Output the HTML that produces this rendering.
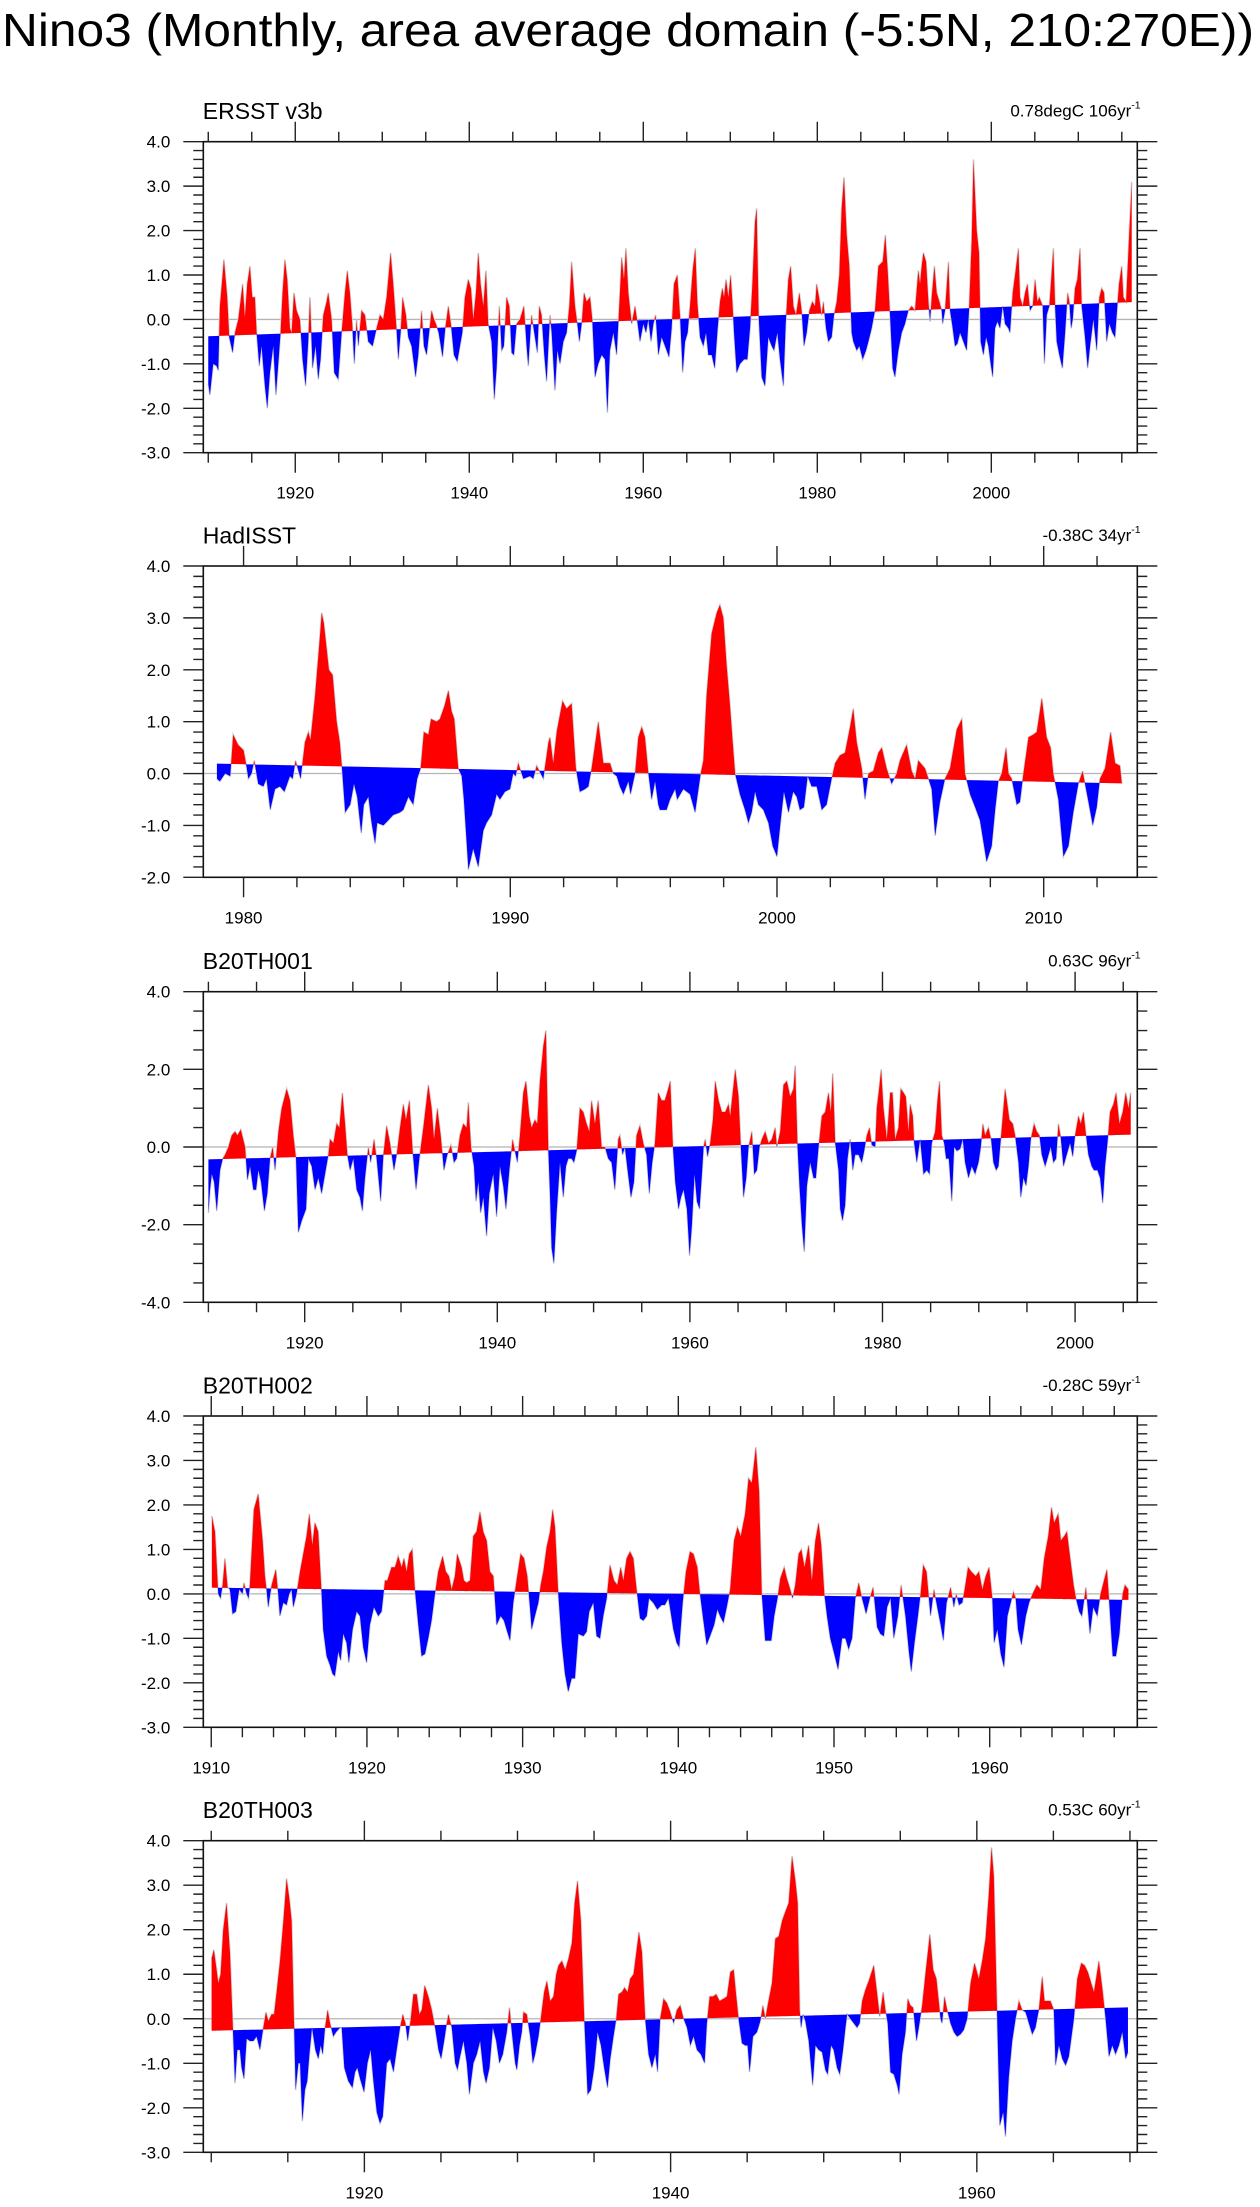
<!DOCTYPE html>
<html><head><meta charset="utf-8">
<style>
html,body{margin:0;padding:0;background:#fff;}
svg{display:block;}
text{font-family:"Liberation Sans",Arial,sans-serif;fill:#000;}
</style></head>
<body>
<svg id="chart" width="1260" height="2207" viewBox="0 0 1260 2207" xmlns="http://www.w3.org/2000/svg">
<text x="2" y="46" font-size="46" textLength="1252" lengthAdjust="spacingAndGlyphs">Nino3 (Monthly, area average domain (-5:5N, 210:270E))</text>
</svg>
<script>
// ---------- Panel 1: ERSST v3b ----------
const p1Years = [1910.0,1910.19,1910.57,1910.96,1911.15,1911.34,1911.8,1912.18,1912.41,1912.8,
1913.07,1913.45,1913.95,1914.21,1914.48,1914.79,1915.06,1915.36,1915.56,1915.86,
1916.13,1916.51,1916.78,1917.09,1917.47,1917.78,1918.05,1918.31,1918.54,1918.81,
1919.08,1919.39,1919.58,1919.85,1920.15,1920.54,1920.84,1921.19,1921.49,1921.69,
1921.99,1922.34,1922.64,1922.91,1923.22,1923.6,1923.79,1924.18,1924.48,1924.94,
1925.33,1925.71,1925.98,1926.28,1926.55,1926.78,1927.05,1927.24,1927.62,1928.01,
1928.39,1928.89,1929.35,1929.73,1930.11,1930.5,1930.96,1931.26,1931.65,1931.84,
1932.11,1932.34,1932.72,1932.99,1933.37,1933.83,1934.14,1934.52,1934.79,1935.1,
1935.67,1935.94,1936.17,1936.48,1936.93,1937.24,1937.59,1937.89,1938.24,1938.62,
1938.93,1939.2,1939.5,1939.89,1940.19,1940.46,1940.77,1941.03,1941.3,1941.61,
1941.92,1942.18,1942.57,1942.87,1943.14,1943.45,1943.72,1943.98,1944.29,1944.6,
1944.87,1945.13,1945.44,1945.82,1946.28,1946.59,1946.78,1947.16,1947.55,1947.82,
1948.05,1948.31,1948.62,1948.89,
1949.28,1949.47,1949.85,1950.12,1950.43,1950.81,1951.19,1951.5,1951.77,1952.15,
1952.42,1952.65,1952.92,1953.19,1953.49,1953.88,1954.14,1954.45,1954.83,1955.22,
1955.6,1955.87,1956.17,1956.56,1956.94,1957.21,1957.52,1957.78,1958.01,1958.28,
1958.67,1959.05,1959.32,1959.62,1960.01,1960.31,1960.58,1960.89,1961.16,1961.42,
1961.73,1962.11,1962.5,1962.96,1963.26,1963.53,1963.91,1964.22,1964.53,1964.8,
1965.1,1965.37,1965.68,1965.98,1966.21,1966.52,1966.9,1967.21,1967.48,1967.86,
1968.21,1968.55,1968.82,1969.09,1969.28,1969.51,1969.78,1970.04,1970.24,1970.43,
1970.73,1971.12,1971.58,1971.96,1972.27,1972.54,1972.84,1973.03,1973.26,1973.61,
1973.99,1974.37,1974.76,1975.03,1975.41,1975.71,1976.1,1976.37,1976.67,1976.94,
1977.25,1977.55,1977.94,1978.2,1978.47,1978.78,1979.09,1979.43,1979.74,1979.93,
1980.2,1980.5,1980.7,1981.0,1981.27,1981.65,1981.92,1982.23,1982.53,1982.8,
1983.07,1983.38,1983.68,1983.95,1984.14,1984.53,1984.83,1985.22,1985.6,1985.87,
1986.25,1986.63,1987.02,1987.52,1987.82,1988.09,1988.36,1988.66,1988.93,1989.32,
1989.7,1990.08,1990.47,1990.85,1991.23,1991.61,
1991.81,1992.0,1992.19,1992.5,1992.77,1992.96,1993.15,1993.46,1993.72,1994.03,
1994.3,1994.41,1994.68,1995.07,1995.26,1995.56,1995.83,1996.1,1996.41,1996.79,
1997.17,1997.44,1997.75,1997.95,1998.32,1998.59,1998.78,1999.09,1999.4,1999.66,
1999.93,2000.16,2000.43,2000.7,2001.0,2001.31,2001.58,2001.96,2002.15,2002.46,
2002.73,2003.11,2003.3,2003.61,2003.88,2004.15,2004.45,2004.76,2005.03,2005.3,
2005.52,2005.91,2006.1,2006.37,2006.67,2007.13,2007.33,2007.52,2007.82,2008.17,
2008.48,2008.78,2008.97,2009.17,2009.36,2009.62,2009.89,2010.2,2010.39,2010.77,
2011.08,2011.35,2011.73,2012.12,2012.42,2012.69,2012.96,2013.26,2013.57,2013.92,
2014.22,2014.41,2014.68,2014.99,2015.18,2015.49,2015.87,2016.14];
const p1Values = [-1.45,-1.7,-1.0,-1.05,-1.15,0.3,1.35,0.5,-0.4,-0.75,
-0.3,0.0,0.8,0.05,0.8,1.2,0.5,0.5,-0.3,-1.05,
-0.6,-1.5,-2.0,-1.2,-0.6,-1.7,-1.0,-0.3,0.6,1.35,
0.9,-0.2,-0.3,0.6,0.2,0.0,-0.9,-1.5,-0.5,0.5,
-1.1,-0.6,-1.35,-0.9,0.1,0.4,0.6,0.0,-1.2,-1.35,
-0.3,0.6,1.1,0.6,-0.1,-1.0,0.0,-0.6,0.2,0.1,
-0.5,-0.6,-0.2,0.1,0.0,0.5,1.5,0.8,-0.25,-0.9,
-0.3,0.5,0.1,-0.4,-0.6,-1.3,-0.8,0.2,-0.6,-0.8,
0.2,0.0,-0.1,-0.3,-0.85,-0.2,0.3,-0.1,-0.8,-0.95,
-0.6,-0.3,0.5,0.9,0.7,0.0,0.6,1.5,0.8,0.3,
1.1,-0.1,-0.5,-1.8,-1.1,0.3,-0.7,-0.6,0.5,0.3,
-0.75,-0.8,-0.1,0.0,0.3,-0.6,-1.05,0.1,-0.4,-0.75,
0.3,0.1,-0.8,-1.4,
0.1,-0.3,-1.6,-0.7,-1.0,-0.5,-0.3,0.3,1.3,0.3,
-0.1,-0.5,-0.1,0.6,0.4,0.5,0.0,-1.3,-1.0,-0.8,
-0.9,-2.1,-0.7,-0.3,-0.8,0.2,1.4,0.9,1.6,0.6,
-0.1,0.3,-0.05,-0.5,-0.1,-0.3,0.0,-0.5,-0.1,0.1,
-0.8,-0.4,-0.6,-0.85,-0.2,0.8,1.0,0.1,-1.2,-0.5,
-0.3,0.3,1.1,1.6,0.4,-0.4,-0.6,-0.3,-0.8,-0.8,
-1.1,-0.2,0.4,0.7,0.5,0.9,0.5,1.0,0.4,-0.3,
-1.2,-1.0,-0.9,-0.9,-0.2,0.8,2.2,2.5,0.1,-1.3,
-1.5,-0.4,-0.6,-0.7,-0.3,-0.9,-1.5,-0.1,0.9,1.2,
0.3,0.1,0.6,0.2,-0.6,-0.3,0.2,0.4,0.3,0.8,
0.5,0.1,0.4,-0.2,-0.5,-0.4,0.1,0.4,1.0,2.5,
3.2,1.9,1.2,-0.3,-0.5,-0.7,-0.6,-0.9,-0.7,-0.5,
-0.2,0.2,1.2,1.3,1.9,1.1,0.1,-1.1,-1.3,-0.7,
-0.3,-0.1,0.2,0.3,0.2,1.1,
0.8,1.2,1.5,1.3,0.4,-0.05,0.5,1.2,0.6,0.4,
0.2,-0.1,0.2,1.3,0.2,-0.2,-0.6,-0.55,-0.3,-0.5,
-0.7,0.2,1.8,3.6,2.0,1.5,-0.5,-0.8,-0.4,-0.6,
-1.0,-1.3,-0.2,-0.05,-0.2,0.3,-0.1,-0.2,-0.3,0.6,
1.0,1.6,0.5,0.3,0.6,0.8,0.2,0.3,0.9,0.4,
0.5,0.3,-1.0,0.1,0.3,1.6,0.3,-0.5,-0.8,-1.1,
-0.3,0.6,0.4,-0.2,0.0,0.7,0.9,1.6,0.3,-0.4,
-1.1,-0.6,0.0,-0.7,0.5,0.7,0.6,-0.5,-0.1,-0.3,
-0.4,0.1,0.8,1.2,0.5,0.4,2.0,3.1];
const p1Trend = [-0.38, 0.39];
const p1YTicks = [4,3,2,1,0,-1,-2,-3];
const p1XTicks = [1920,1940,1960,1980,2000];

// ---------- Panel 2: HadISST ----------
const p2Years = [1979.0,1979.11,1979.31,1979.5,1979.61,1979.8,1980.0,1980.09,1980.18,1980.3,
1980.4,1980.55,1980.74,1980.86,1981.0,1981.18,1981.36,1981.53,1981.74,1981.84,
1981.95,1982.14,1982.3,1982.43,1982.51,1982.68,1982.84,1982.93,1983.01,1983.2,
1983.34,1983.49,1983.61,1983.69,1983.81,1984.0,1984.14,1984.26,1984.41,1984.51,
1984.68,1984.8,1984.93,1985.01,1985.24,1985.43,1985.61,1985.86,1985.99,1986.18,
1986.36,1986.51,1986.64,1986.76,1986.93,1987.03,1987.24,1987.36,1987.53,1987.68,
1987.8,1987.9,1988.05,1988.18,1988.26,1988.43,1988.61,1988.8,1988.99,1989.11,
1989.3,1989.49,1989.61,1989.8,1989.99,1990.11,1990.2,1990.3,1990.49,1990.74,
1990.86,1990.99,1991.14,1991.24,1991.43,1991.49,1991.61,1991.74,1991.96,1992.11,
1992.3,1992.46,1992.61,1992.8,1992.93,1993.05,1993.3,1993.49,1993.74,1993.86,
1993.99,1994.11,1994.24,1994.43,1994.51,1994.68,1994.8,1994.93,1995.05,1995.18,
1995.3,1995.43,1995.55,
1995.61,1995.86,1995.99,1996.18,1996.26,1996.49,1996.74,1996.93,1997.14,1997.24,
1997.36,1997.55,1997.74,1997.86,1997.99,1998.11,1998.24,1998.34,1998.43,1998.61,
1998.8,1998.93,1999.05,1999.18,1999.3,1999.49,1999.68,1999.84,2000.0,2000.14,
2000.26,2000.43,2000.61,2000.74,2000.86,2001.01,2001.15,2001.3,2001.49,2001.68,
2001.86,2002.05,2002.18,2002.36,2002.55,2002.74,2002.86,2002.99,2003.18,2003.3,
2003.43,2003.61,2003.8,2003.93,2004.11,2004.3,2004.49,2004.61,2004.86,2005.05,
2005.18,2005.3,2005.55,2005.68,2005.8,2005.93,2006.11,2006.3,2006.49,2006.74,
2006.93,2007.05,2007.24,2007.43,2007.61,2007.86,2008.05,2008.18,2008.3,2008.43,
2008.59,2008.68,2008.8,2008.99,2009.11,2009.24,2009.43,2009.61,2009.74,2009.93,
2010.11,2010.26,2010.36,2010.55,2010.74,2010.93,2011.11,2011.3,2011.46,2011.55,
2011.68,2011.84,2011.99,2012.11,2012.3,2012.51,2012.68,2012.86,2012.93];
const p2Values = [-0.1,-0.15,0.0,-0.05,0.75,0.55,0.45,0.2,-0.1,0.0,
0.25,-0.2,-0.25,-0.1,-0.7,-0.3,-0.25,-0.35,-0.05,-0.1,
0.25,-0.1,0.6,0.8,0.65,1.5,2.5,3.1,2.9,2.0,
1.9,1.0,0.6,0.1,-0.75,-0.6,-0.2,-0.45,-1.15,-0.6,
-0.45,-0.95,-1.35,-0.95,-1.0,-0.9,-0.8,-0.75,-0.7,-0.45,
-0.6,-0.1,0.1,0.8,0.75,1.05,1.0,1.05,1.3,1.6,
1.2,1.05,0.1,-0.05,-0.5,-1.85,-1.45,-1.8,-1.1,-0.95,
-0.8,-0.4,-0.5,-0.35,-0.3,0.0,-0.05,0.2,-0.1,-0.05,
-0.1,0.15,0.0,-0.1,0.6,0.7,0.2,0.8,1.4,1.25,
1.35,0.1,-0.35,-0.3,-0.25,0.1,1.0,0.2,0.2,0.0,
-0.05,-0.25,-0.4,-0.15,-0.4,0.0,0.7,0.9,0.7,0.0,
-0.5,-0.15,-0.6,
-0.7,-0.7,-0.5,-0.3,-0.5,-0.3,-0.4,-0.75,0.0,0.25,
1.5,2.7,3.1,3.25,3.0,2.1,1.3,0.6,0.0,-0.4,
-0.7,-0.95,-0.75,-0.35,-0.6,-0.7,-0.95,-1.4,-1.6,-0.9,
-0.35,-0.75,-0.35,-0.45,-0.7,-0.65,-0.05,-0.25,-0.25,-0.7,
-0.6,-0.1,0.2,0.35,0.4,0.9,1.25,0.6,0.1,-0.5,
0.0,0.05,0.4,0.5,0.1,-0.2,0.0,0.25,0.55,0.05,
-0.1,0.25,0.1,-0.1,-0.3,-1.2,-0.55,-0.1,0.1,0.85,
1.05,0.0,-0.4,-0.65,-0.9,-1.7,-1.4,-0.7,-0.15,0.0,
0.5,0.0,-0.1,-0.6,-0.55,0.0,0.7,0.75,0.8,1.45,
0.7,0.5,0.0,-0.5,-1.6,-1.4,-0.75,-0.2,0.05,-0.2,
-0.55,-1.0,-0.65,-0.1,0.1,0.8,0.2,0.15,-0.2];
const p2Trend = [0.19, -0.19];
const p2YTicks = [4,3,2,1,0,-1,-2];
const p2XTicks = [1980,1990,2000,2010];

// ---------- Panel 3: B20TH001 ----------
const p3Years = [1910.0,1910.17,1910.35,1910.59,1910.87,1911.21,1911.49,1911.73,1912.08,1912.42,
1912.77,1913.01,1913.36,1913.81,1914.05,1914.33,1914.67,1914.95,1915.19,1915.47,
1915.81,1916.12,1916.4,1916.68,1916.92,1917.27,1917.61,1918.13,1918.48,1918.82,
1919.1,1919.34,1919.69,1920.14,1920.38,1920.73,1921.07,1921.42,1921.76,1922.11,
1922.46,1922.63,1922.98,1923.32,1923.6,1923.91,1924.19,1924.43,1924.71,1925.05,
1925.4,1925.74,1925.99,1926.26,1926.61,1926.85,1927.2,1927.47,1927.89,1928.17,
1928.51,1928.86,1929.27,1929.55,1929.9,1930.24,1930.52,1930.87,1931.21,1931.56,
1931.9,1932.32,1932.84,1933.18,1933.43,1933.77,1934.12,1934.46,1934.81,1935.19,
1935.5,1935.78,1936.12,1936.47,1936.82,1936.99,1937.27,1937.58,1937.79,1938.03,
1938.27,1938.55,1938.89,1939.17,1939.58,1939.93,1940.28,1940.62,1940.9,1941.25,
1941.59,1941.83,1942.08,1942.35,1942.7,1942.98,1943.32,1943.56,1943.91,1944.15,
1944.43,1944.78,1945.05,1945.29,1945.47,1945.64,1945.88,1946.16,1946.51,1946.85,
1947.13,1947.37,1947.72,1947.96,1948.24,1948.58,1948.93,1949.27,1949.55,1949.79,
1950.14,1950.48,1950.83,1951.18,1951.52,1951.87,1952.21,1952.56,1952.73,1953.01,
1953.25,1953.53,1953.88,1954.19,1954.46,1954.81,1955.16,1955.5,1955.78,1956.09,
1956.37,1956.71,1957.06,1957.4,1957.75,
1957.96,1958.24,1958.48,1958.82,1959.07,1959.34,1959.69,1959.97,1960.21,1960.48,
1960.73,1961.0,1961.25,1961.42,1961.59,1961.83,1962.11,1962.39,1962.63,1962.98,
1963.32,1963.67,1964.01,1964.19,1964.36,1964.71,1965.05,1965.29,1965.57,1965.85,
1966.09,1966.44,1966.68,1966.96,1967.23,1967.47,1967.82,1968.17,1968.51,1968.86,
1969.03,1969.38,1969.72,1970.07,1970.42,1970.76,1970.93,1971.18,1971.38,1971.63,
1971.87,1972.15,1972.49,1972.84,1973.08,1973.36,1973.7,1974.05,1974.39,1974.64,
1974.84,1975.09,1975.43,1975.61,1975.85,1976.12,1976.37,1976.64,1976.92,1977.16,
1977.51,1977.85,1978.1,1978.37,1978.65,1978.89,1979.24,1979.41,1979.65,1979.86,
1980.1,1980.45,1980.8,1981.04,1981.31,1981.66,1981.9,1982.18,1982.42,1982.7,
1982.87,1983.15,1983.29,1983.56,1983.91,1984.26,1984.6,1984.88,1985.12,1985.47,
1985.71,1985.92,1986.16,1986.4,1986.61,1986.89,1987.2,1987.44,1987.72,1988.06,
1988.34,1988.58,1988.93,1989.27,1989.62,1989.97,1990.21,1990.42,1990.66,1991.0,
1991.28,1991.52,1991.8,1992.04,1992.39,1992.73,1992.91,1993.18,1993.53,1993.77,
1994.12,1994.36,1994.64,1994.91,1995.16,1995.4,1995.74,1996.02,1996.3,1996.54,
1996.89,1997.13,1997.47,1997.75,1998.03,1998.27,1998.51,1998.79,1999.13,1999.48,
1999.76,2000.0,2000.35,2000.59,2000.87,2001.14,2001.38,2001.73,2001.97,2002.32,
2002.6,2002.87,2003.11,2003.36,2003.63,2003.98,2004.26,2004.6,2004.95,2005.26,
2005.54,2005.78];
const p3Values = [-1.7,-1.1,-0.7,-0.9,-1.65,-0.6,-0.3,-0.2,0.0,0.3,
0.4,0.3,0.45,0.0,-0.85,-0.5,-1.1,-1.1,-0.6,-0.9,
-1.65,-1.2,-0.3,0.0,-0.6,0.4,1.0,1.5,1.2,0.3,
-0.3,-2.2,-1.9,-1.6,-0.3,-0.5,-1.1,-0.8,-1.2,-0.7,
-0.2,0.2,0.1,0.6,0.5,1.4,0.6,-0.2,-0.6,-0.3,
-1.1,-1.3,-1.65,-0.8,0.0,-0.4,0.2,-0.3,-1.4,-0.2,
0.55,0.1,-0.6,-0.2,0.5,1.1,0.7,1.2,-0.1,-1.1,
-0.3,0.5,1.6,1.0,0.2,1.0,0.3,-0.6,-0.2,0.05,
-0.4,-0.3,0.3,0.6,0.5,1.15,0.0,-0.5,-1.4,-0.9,
-1.7,-1.3,-2.3,-1.2,-0.7,-1.8,-0.5,-1.0,-1.6,-0.6,
0.2,-0.1,-0.4,0.3,1.4,1.7,0.8,0.5,0.7,0.6,
1.7,2.6,3.0,0.0,-1.2,-2.6,-3.0,-1.7,-0.4,-1.3,
-0.5,-0.3,-0.3,-0.4,-0.1,1.0,0.9,0.6,0.4,1.2,
0.6,1.2,0.0,0.0,-0.3,-0.4,-1.1,0.2,0.3,-0.2,
0.0,-0.6,-1.3,-0.9,0.3,0.55,0.1,-0.2,-1.2,-0.4,
0.1,1.4,1.2,1.2,1.5,
1.7,0.0,-0.9,-1.6,-1.3,-1.1,-1.6,-2.8,-2.0,-0.7,
-1.4,-1.6,-0.7,0.0,0.2,-0.25,0.1,0.7,1.7,1.2,
0.9,0.9,1.1,0.8,1.2,2.0,1.3,0.0,-1.3,-0.8,
0.0,0.4,-0.7,-0.6,0.0,0.2,0.4,0.1,0.2,0.5,
0.0,0.4,1.6,1.7,1.3,1.5,2.1,0.0,-1.0,-2.0,
-2.7,-1.0,-0.4,-0.8,-0.8,0.0,0.8,0.9,1.4,0.9,
1.9,0.1,-0.6,-1.6,-1.9,-1.5,-0.3,0.2,-0.6,-0.2,
-0.2,-0.4,-0.1,0.3,0.5,0.05,0.0,1.0,1.5,2.0,
1.0,0.2,1.4,1.4,0.2,0.5,1.5,1.4,1.3,0.4,
1.1,0.8,0.1,-0.4,0.2,-0.7,-0.6,-0.7,0.1,0.4,
1.2,1.7,0.3,0.1,-0.3,-0.3,-1.4,0.0,-0.1,-0.05,
0.2,-0.4,-0.8,-0.5,-0.7,-0.4,0.0,0.6,0.3,0.5,
0.2,-0.4,-0.6,-0.5,0.5,1.5,1.2,0.7,0.6,0.3,
-0.4,-1.3,-0.8,-1.0,-0.5,0.2,0.6,0.4,0.3,-0.2,
-0.5,-0.3,0.0,-0.4,-0.3,0.6,0.25,-0.5,-0.2,0.1,
-0.25,0.3,0.8,0.6,0.9,0.3,-0.2,-0.5,-0.6,-0.6,
-0.8,-1.45,-0.5,0.1,0.9,1.1,1.4,0.6,0.9,1.4,
1.0,1.4];
const p3Trend = [-0.32, 0.32];
const p3YTicks = [4,2,0,-2,-4];
const p3XTicks = [1920,1940,1960,1980,2000];

// ---------- Panel 4: B20TH002 ----------
const p4Years = [1910.04,1910.24,1910.45,1910.6,1910.73,1910.88,1911.05,1911.2,1911.37,1911.58,
1911.8,1912.01,1912.1,1912.27,1912.4,1912.48,1912.74,1913.02,1913.3,1913.45,
1913.55,1913.66,1913.88,1914.15,1914.3,1914.41,1914.63,1914.84,1915.01,1915.16,
1915.27,1915.48,1915.7,1915.91,1916.12,1916.3,1916.49,1916.66,1916.87,1917.09,
1917.19,1917.41,1917.62,1917.79,1917.94,1918.16,1918.31,1918.48,1918.69,1918.84,
1919.08,1919.34,1919.55,1919.76,1919.98,1920.19,1920.45,1920.73,1920.94,1921.16,
1921.31,1921.58,1921.8,1922.01,1922.23,1922.38,1922.55,1922.72,1922.91,1923.08,
1923.3,1923.51,1923.73,1923.94,1924.15,1924.37,1924.58,1924.86,1925.07,1925.27,
1925.44,1925.65,1925.8,1926.08,1926.23,1926.4,1926.62,1926.83,1927.04,1927.26,
1927.47,1927.69,1927.9,1928.12,1928.33,1928.59,1928.8,1929.01,1929.19,1929.4,
1929.61,1929.87,1930.09,1930.3,1930.47,1930.58,1930.79,1931.01,1931.16,1931.33,
1931.54,1931.76,1931.93,1932.08,1932.29,1932.51,1932.72,1932.93,1933.15,1933.36,
1933.58,1933.9,1934.11,1934.28,1934.54,1934.75,1934.97,1935.18,1935.4,1935.61,
1935.87,1936.08,1936.3,1936.47,1936.68,1936.9,1937.11,1937.32,1937.54,1937.75,
1937.97,1938.12,1938.39,1938.65,1938.93,1939.14,1939.36,
1939.46,1939.68,1939.89,1940.06,1940.28,1940.49,1940.75,1940.97,1941.22,1941.39,
1941.61,1941.82,1942.04,1942.3,1942.51,1942.68,1942.9,1943.11,1943.33,1943.58,
1943.8,1944.01,1944.29,1944.51,1944.72,1944.98,1945.19,1945.36,1945.58,1945.79,
1945.97,1946.16,1946.37,1946.55,1946.8,1946.97,1947.19,1947.34,1947.51,1947.73,
1947.9,1948.11,1948.37,1948.58,1948.8,1949.01,1949.18,1949.38,1949.55,1949.76,
1949.98,1950.26,1950.52,1950.73,1950.94,1951.16,1951.37,1951.59,1951.8,1952.06,
1952.3,1952.51,1952.77,1952.98,1953.2,1953.41,1953.63,1953.84,1954.1,1954.31,
1954.59,1954.81,1954.96,1955.17,1955.39,1955.56,1955.73,1955.94,1956.2,1956.42,
1956.63,1956.85,1957.02,1957.23,1957.49,1957.7,1957.85,1958.03,1958.24,1958.39,
1958.61,1958.82,1959.1,1959.31,1959.53,1959.74,1959.96,1960.17,1960.28,1960.49,
1960.71,1960.92,1961.14,1961.35,1961.52,1961.67,1961.82,1962.04,1962.32,1962.53,
1962.75,1963.03,1963.28,1963.5,1963.76,1963.97,1964.14,1964.4,1964.57,1964.79,
1964.96,1965.17,1965.39,1965.54,1965.75,1965.92,1966.18,1966.44,1966.65,1966.91,
1967.12,1967.34,1967.53,1967.68,1967.9,1968.11,1968.33,1968.54,1968.69,1968.91];
const p4Values = [1.75,1.4,0.0,-0.1,0.2,0.8,0.15,0.1,-0.45,-0.4,
0.1,0.0,0.25,0.0,-0.1,0.2,1.9,2.25,1.2,0.4,
0.1,-0.3,0.2,0.55,0.0,-0.5,-0.2,-0.25,0.0,0.1,
-0.3,0.0,0.5,0.9,1.3,1.8,1.1,1.6,1.4,0.0,
-0.8,-1.4,-1.6,-1.8,-1.85,-1.3,-1.5,-0.9,-1.1,-1.55,
-0.8,-0.4,-0.5,-1.2,-1.55,-0.7,-0.3,-0.5,-0.4,0.3,
0.3,0.6,0.6,0.85,0.6,0.8,0.5,0.9,1.0,0.1,
-0.7,-1.4,-1.35,-1.0,-0.6,0.0,0.5,0.85,0.5,0.4,
0.1,0.4,0.9,0.6,0.3,0.25,0.3,1.3,1.4,1.85,
1.4,1.2,0.5,0.4,-0.7,-0.5,-0.6,-0.85,-1.05,-0.2,
0.3,0.9,0.8,0.4,-0.3,-0.8,-0.5,-0.2,0.2,0.5,
1.05,1.4,1.9,1.5,0.0,-1.1,-1.8,-2.2,-1.9,-1.9,
-0.9,-0.95,-0.85,-0.4,-0.2,-0.95,-1.0,-0.5,-0.1,0.65,
0.3,0.2,0.6,0.3,0.8,0.95,0.8,0.1,-0.55,-0.6,
-0.5,-0.1,-0.2,-0.35,-0.25,-0.25,-0.1,
-0.3,-0.8,-1.1,-1.2,-0.2,0.5,0.95,0.9,0.6,0.0,
-0.6,-1.15,-0.95,-0.7,-0.35,-0.5,-0.65,-0.3,0.1,1.2,
1.5,1.3,1.8,2.6,2.5,3.3,2.3,0.0,-1.05,-1.05,
-1.05,-0.5,-0.1,0.35,0.6,0.35,0.1,-0.1,0.2,0.9,
1.0,0.6,1.1,0.3,1.2,1.6,1.1,0.0,-0.5,-1.0,
-1.3,-1.7,-1.0,-1.0,-1.25,-1.0,-0.1,0.25,-0.1,-0.45,
-0.1,0.15,-0.75,-0.9,-0.95,-0.3,-0.1,-1.0,-0.5,0.2,
-0.5,-1.3,-1.75,-1.1,-0.5,0.0,0.65,0.5,-0.5,0.1,
-0.3,-0.7,-1.05,-0.2,0.15,-0.3,0.0,-0.25,-0.2,0.1,
0.6,0.5,0.4,0.5,0.1,0.4,0.6,-0.1,-1.1,-0.8,
-1.35,-1.65,-0.5,-0.2,0.05,-0.1,-0.8,-1.15,-0.5,-0.2,
0.0,0.2,0.1,0.8,1.3,1.95,1.6,1.8,1.2,1.3,
1.4,0.8,0.2,-0.1,-0.4,-0.5,0.15,-0.9,-0.3,-0.5,
0.0,0.3,0.55,-0.2,-1.4,-1.4,-0.9,0.0,0.2,0.1];
const p4Trend = [0.14, -0.135];
const p4YTicks = [4,3,2,1,0,-1,-2,-3];
const p4XTicks = [1910,1920,1930,1940,1950,1960];

// ---------- Panel 5: B20TH003 ----------
const p5Years = [1910.02,1910.17,1910.31,1910.46,1910.61,1910.78,1911.0,1911.22,1911.39,1911.55,
1911.7,1911.87,1911.98,1912.14,1912.31,1912.53,1912.75,1912.96,1913.18,1913.4,
1913.57,1913.73,1913.94,1914.1,1914.27,1914.49,1914.71,1914.92,1915.1,1915.25,
1915.4,1915.51,1915.69,1915.8,1915.95,1916.12,1916.27,1916.41,1916.58,1916.8,
1916.99,1917.15,1917.28,1917.43,1917.6,1917.76,1917.97,1918.15,1918.41,1918.52,
1918.69,1918.95,1919.22,1919.39,1919.54,1919.72,1919.98,1920.2,1920.41,1920.59,
1920.81,1921.02,1921.2,1921.46,1921.68,1921.9,1922.11,1922.33,1922.51,1922.68,
1922.83,1923.03,1923.2,1923.42,1923.59,1923.75,1923.94,1924.18,1924.4,1924.62,
1924.84,1925.01,1925.21,1925.38,1925.49,1925.71,1925.93,1926.08,1926.25,1926.47,
1926.69,1926.86,1927.12,1927.34,1927.56,1927.78,1927.95,1928.17,1928.39,1928.61,
1928.82,1929.04,1929.3,1929.48,1929.63,1929.85,1929.96,1930.13,1930.28,1930.39,
1930.61,1930.83,1931.0,1931.15,1931.37,1931.52,1931.74,1931.92,1932.14,1932.35,
1932.53,1932.68,1932.9,1933.12,1933.33,1933.55,1933.73,1933.92,1934.14,1934.36,
1934.58,1934.79,1935.01,1935.23,1935.45,1935.66,1935.88,1936.06,1936.27,1936.45,
1936.6,1936.82,1936.99,1937.19,1937.36,1937.58,1937.8,1937.93,1938.13,1938.34,
1938.56,1938.78,1939.0,1939.15,1939.32,1939.54,1939.76,1939.93,
1940.2,1940.41,1940.63,1940.85,1941.07,1941.29,1941.5,1941.72,1941.98,1942.22,
1942.37,1942.55,1942.77,1942.98,1943.2,1943.46,1943.68,1943.9,1944.12,1944.29,
1944.44,1944.66,1944.88,1945.03,1945.16,1945.38,1945.64,1945.86,1946.03,1946.19,
1946.34,1946.62,1946.84,1947.06,1947.28,1947.49,1947.71,1947.93,1948.15,1948.3,
1948.43,1948.52,1948.65,1948.8,1949.02,1949.28,1949.46,1949.67,1949.89,1950.11,
1950.26,1950.48,1950.65,1950.87,1951.05,1951.26,1951.42,1951.53,1951.74,1951.96,
1952.18,1952.35,1952.51,1952.72,1952.94,1953.27,1953.44,1953.66,1953.88,1954.03,
1954.18,1954.36,1954.58,1954.8,1954.92,1955.12,1955.34,1955.49,1955.66,1955.84,
1956.06,1956.21,1956.43,1956.64,1956.93,1957.15,1957.36,1957.63,1957.73,1957.89,
1958.06,1958.28,1958.5,1958.71,1958.93,1959.15,1959.37,1959.59,1959.85,1960.13,
1960.35,1960.57,1960.78,1960.96,1961.11,1961.33,1961.5,1961.72,1961.87,1962.09,
1962.31,1962.53,1962.75,1962.96,1963.18,1963.4,1963.62,1963.83,1964.05,1964.27,
1964.42,1964.6,1964.81,1965.03,1965.14,1965.36,1965.58,1965.8,1966.01,1966.34,
1966.56,1966.82,1967.04,1967.25,1967.47,1967.65,1967.97,1968.19,1968.41,1968.63,
1968.85,1969.06,1969.28,1969.5,1969.72,1969.87];
const p5Values = [1.35,1.55,1.2,0.8,1.0,2.0,2.6,1.5,0.0,-1.45,
-0.7,-0.7,-1.1,-1.35,-0.45,-0.5,-0.5,-0.4,-0.7,-0.2,
0.15,-0.05,0.1,0.1,0.6,1.3,2.2,3.15,2.7,2.2,
0.0,-1.6,-1.0,-1.0,-2.3,-1.6,-1.4,-0.8,-0.2,-0.7,
-0.9,-0.6,-0.8,-0.2,0.2,-0.1,-0.4,-0.3,-0.2,-0.2,
-1.1,-1.4,-1.55,-1.2,-1.1,-1.35,-1.65,-1.0,-0.7,-1.4,
-2.1,-2.35,-2.2,-1.0,-0.9,-1.2,-0.7,-0.2,0.1,-0.1,
-0.5,0.0,0.55,0.55,0.1,0.2,0.75,0.5,0.2,-0.2,
-0.7,-0.9,-0.5,-0.1,0.1,-0.2,-1.0,-1.15,-0.85,-0.5,
-1.0,-1.7,-1.0,-0.8,-0.5,-1.2,-1.45,-1.1,-0.2,-0.5,
-1.0,-0.8,-0.3,0.25,-0.3,-1.0,-1.15,-0.6,-0.3,0.15,
0.1,-0.4,-1.0,-0.8,-0.4,0.0,0.6,0.85,0.4,0.5,
1.0,1.2,1.3,1.1,1.35,1.7,2.6,3.1,2.2,0.0,
-1.7,-1.6,-1.1,-0.3,-0.6,-1.1,-1.55,-0.9,-0.4,0.0,
0.55,0.6,0.7,0.6,0.9,1.0,1.6,1.95,1.5,0.0,
-0.8,-1.1,-0.8,-1.2,0.0,0.45,0.35,0.2,
-0.1,0.2,0.3,0.0,-0.2,-0.6,-0.4,-0.7,-0.8,-1.0,
-0.1,0.5,0.5,0.55,0.4,0.45,0.5,1.05,1.1,0.5,
0.0,-0.55,-0.6,-0.6,-1.2,-0.4,-0.3,-0.05,0.3,0.0,
0.3,0.8,1.8,1.85,2.2,2.4,2.6,3.65,3.1,2.6,
0.2,-0.2,0.1,-0.05,-0.5,-1.5,-0.6,-0.7,-0.75,-1.15,
-1.25,-0.6,-0.7,-1.1,-1.25,-0.7,-0.2,0.1,0.0,-0.1,
-0.2,-0.1,0.4,0.65,0.85,1.2,0.7,0.05,0.6,0.2,
-0.1,-1.2,-1.25,-1.5,-1.7,-0.8,-0.3,0.45,0.3,0.25,
-0.5,-0.2,0.3,1.0,1.9,1.1,0.9,0.0,-0.1,0.5,
0.2,-0.1,-0.3,-0.4,-0.35,-0.25,0.0,0.8,1.25,0.9,
1.3,1.8,2.8,3.85,3.2,0.0,-2.4,-2.1,-2.65,-1.3,
-0.5,0.0,0.4,0.2,0.15,-0.1,-0.35,-0.2,0.2,0.95,
0.4,0.4,0.4,0.2,-1.05,-0.6,-0.9,-1.05,-0.85,0.0,
0.9,1.25,1.2,1.05,0.8,0.6,1.3,0.7,0.0,-0.85,
-0.6,-0.8,-0.6,-0.3,-0.9,-0.75];
const p5Trend = [-0.27, 0.255];
const p5YTicks = [4,3,2,1,0,-1,-2,-3];
const p5XTicks = [1920,1940,1960];

const NS = 'http://www.w3.org/2000/svg';
const svg = document.getElementById('chart');
const L = 203.3, R = 1137.3;

const panels = [
 {key:'ersst', title:'ERSST v3b', right:'0.78degC 106yr', top:141.7, bottom:452.7, ymin:-3, ymax:4, xmin:1909.43, xmax:2016.78,
  years:p1Years, values:p1Values, trend:p1Trend, yTicks:p1YTicks, yMinor:0.2, xTicks:p1XTicks, xMinor:5},
 {key:'hadisst', title:'HadISST', right:'-0.38C 34yr', top:566, bottom:877.3, ymin:-2, ymax:4, xmin:1978.49, xmax:2013.51,
  years:p2Years, values:p2Values, trend:p2Trend, yTicks:p2YTicks, yMinor:0.2, xTicks:p2XTicks, xMinor:2},
 {key:'b20th001', title:'B20TH001', right:'0.63C 96yr', top:991.7, bottom:1302.3, ymin:-4, ymax:4, xmin:1909.47, xmax:2006.46,
  years:p3Years, values:p3Values, trend:p3Trend, yTicks:p3YTicks, yMinor:0.5, xTicks:p3XTicks, xMinor:5},
 {key:'b20th002', title:'B20TH002', right:'-0.28C 59yr', top:1416, bottom:1727.3, ymin:-3, ymax:4, xmin:1909.49, xmax:1969.48,
  years:p4Years, values:p4Values, trend:p4Trend, yTicks:p4YTicks, yMinor:0.2, xTicks:p4XTicks, xMinor:2},
 {key:'b20th003', title:'B20TH003', right:'0.53C 60yr', top:1840.7, bottom:2152.3, ymin:-3, ymax:4, xmin:1909.48, xmax:1970.48,
  years:p5Years, values:p5Values, trend:p5Trend, yTicks:p5YTicks, yMinor:0.2, xTicks:p5XTicks, xMinor:5}
];

function mk(tag, attrs, parent){
  const e = document.createElementNS(NS, tag);
  for (const k in attrs) e.setAttribute(k, attrs[k]);
  (parent||svg).appendChild(e);
  return e;
}

panels.forEach(function(p){
  const g = mk('g', {});
  
  
  const xs = t => L + (t - p.xmin) / (p.xmax - p.xmin) * (R - L);
  const ys = v => p.top + (p.ymax - v) / (p.ymax - p.ymin) * (p.bottom - p.top);
  const t0 = p.years[0], t1 = p.years[p.years.length-1];
  const trendAt = t => p.trend[0] + (p.trend[1]-p.trend[0]) * (t - t0) / (t1 - t0);

  const zl = mk('line', {x1:L, x2:R, y1:ys(0), y2:ys(0), stroke:'#b4b4b4', 'stroke-width':1.3}, g);
  
  

  let outline = '';
  p.years.forEach((t,i) => { outline += (i ? 'L' : 'M') + xs(t).toFixed(2) + ',' + ys(p.values[i]).toFixed(2); });
  const ol = mk('path', {d:outline, fill:'none', stroke:'#cfcfcf', 'stroke-width':1.6}, g);
  
  

  const pts = [];
  for (let i = 0; i < p.years.length; i++){
    const t = p.years[i], d = p.values[i] - trendAt(t);
    if (i > 0){
      const tp = p.years[i-1], dp = p.values[i-1] - trendAt(tp);
      if ((dp > 0 && d < 0) || (dp < 0 && d > 0)){
        const f = dp / (dp - d);
        pts.push({t: tp + f*(t-tp), d: 0});
      }
    }
    pts.push({t:t, d:d});
  }
  function areaPath(sign){
    let s = 'M' + xs(t0).toFixed(2) + ',' + ys(trendAt(t0)).toFixed(2);
    pts.forEach(q => {
      const dd = sign > 0 ? Math.max(q.d, 0) : Math.min(q.d, 0);
      s += 'L' + xs(q.t).toFixed(2) + ',' + ys(trendAt(q.t) + dd).toFixed(2);
    });
    s += 'L' + xs(t1).toFixed(2) + ',' + ys(trendAt(t1)).toFixed(2) + 'Z';
    return s;
  }
  const red = mk('path', {d:areaPath(1), fill:'#ff0000', stroke:'none'}, g);
  
  
  const blue = mk('path', {d:areaPath(-1), fill:'#0000ff', stroke:'none'}, g);
  
  

  const fr = mk('rect', {x:L, y:p.top, width:R-L, height:p.bottom-p.top, fill:'none', stroke:'#111', 'stroke-width':1.6}, g);
  
  

  let tk = '';
  const isMajorY = v => p.yTicks.some(m => Math.abs(m - v) < 1e-6);
  for (let v = p.ymin; v <= p.ymax + 1e-6; v += p.yMinor){
    const vv = Math.round(v*100)/100;
    const y = ys(vv).toFixed(2);
    const len = isMajorY(vv) ? 20 : 10;
    tk += 'M' + (L-len) + ',' + y + 'H' + L + 'M' + R + ',' + y + 'H' + (R+len);
  }
  const isMajorX = t => p.xTicks.some(m => Math.abs(m - t) < 1e-6);
  for (let t = Math.ceil(p.xmin / p.xMinor) * p.xMinor; t <= p.xmax; t += p.xMinor){
    const x = xs(t).toFixed(2);
    const len = isMajorX(t) ? 20 : 10;
    tk += 'M' + x + ',' + (p.top-len) + 'V' + p.top + 'M' + x + ',' + p.bottom + 'V' + (p.bottom+len);
  }
  const tpath = mk('path', {d:tk, stroke:'#222', 'stroke-width':1.4, fill:'none'}, g);
  
  

  p.yTicks.forEach(v => {
    const tx = mk('text', {x:L-33, y:ys(v)+6, 'font-size':17, 'text-anchor':'end'}, g);
    tx.textContent = v.toFixed(1);
    
    
  });
  p.xTicks.forEach(t => {
    const tx = mk('text', {x:xs(t), y:p.bottom+46, 'font-size':17, 'text-anchor':'middle'}, g);
    tx.textContent = String(t);
    
    
  });
  const tt = mk('text', {x:L-0.5, y:p.top-22.5, 'font-size':23}, g);
  tt.textContent = p.title;
  
  

  const rt = mk('text', {x:R-6, y:p.top-25, 'font-size':17, 'text-anchor':'end'}, g);
  rt.textContent = p.right;
  
  
  const sup = mk('text', {x:R-6, y:p.top-33, 'font-size':10.5}, g);
  sup.textContent = '-1';
  
  
});
</script>
</body></html>
